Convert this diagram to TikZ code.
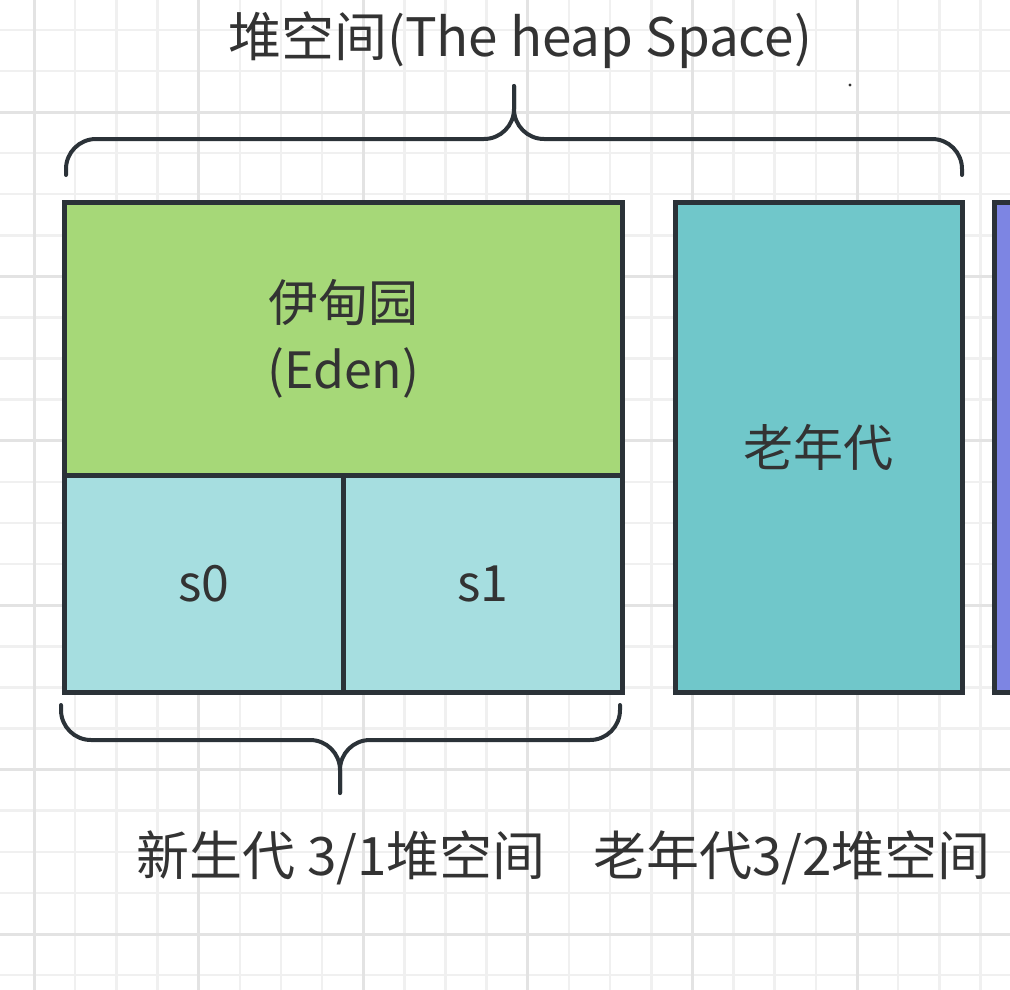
\documentclass[tikz,border=0pt]{standalone}
\usepackage{fontspec}
\newfontfamily\cjk{Noto Sans CJK SC}
\definecolor{edengreen}{HTML}{A6D878}
\definecolor{survcyan}{HTML}{A6DEE0}
\definecolor{oldcyan}{HTML}{70C7CA}
\definecolor{permblue}{HTML}{7D85E3}
\definecolor{edgegray}{HTML}{2B3238}
\definecolor{textgray}{HTML}{333333}
\definecolor{gridminor}{HTML}{F0F0F0}
\definecolor{gridmajor}{HTML}{E3E3E3}
\tikzset{
	area/.style={draw=edgegray,line width=4.5pt,inner sep=0pt,anchor=north west,
		text=textgray,align=center,font=\cjk\fontsize{50}{67}\selectfont},
	label/.style={text=textgray,inner sep=0pt,font=\cjk\fontsize{53}{60}\selectfont},
	brace/.style={draw=edgegray,line width=4pt,line cap=round,rounded corners=30pt},
}
\begin{document}
\begin{tikzpicture}[x=1pt,y=-1pt]
\useasboundingbox (0,0) rectangle (1010,990);
%Gitter
\foreach \i in {0,...,25} \draw[gridminor,line width=2.5pt] ({34+41.15*(\i-1)},0)--++(0,990);
\foreach \i in {0,...,25} \draw[gridminor,line width=2.5pt] (0,{29.8+41.1*(\i-1)})--++(1010,0);
\foreach \i in {0,...,6} \draw[gridmajor,line width=3pt] ({34+164.6*\i},0)--++(0,990);
\foreach \i in {0,...,6} \draw[gridmajor,line width=3pt] (0,{112+164.4*(\i-1)})--++(1010,0);

\node[label] (heap) at (520,40) {堆空间(The heap Space)};

\node[area,fill=edengreen,minimum width=558pt,minimum height=273pt] (eden) at (62,200) {伊甸园\\(Eden)};
\node[area,fill=survcyan,minimum width=279pt,minimum height=217pt] (s0) at (62,473) {s0};
\node[area,fill=survcyan,minimum width=279pt,minimum height=217pt] (s1) at (341,473) {s1};
\node[area,fill=oldcyan,minimum width=287pt,minimum height=490pt] (old) at (673,200) {老年代};
\node[area,fill=permblue,minimum width=60pt,minimum height=490pt] (perm) at (992,200) {};

%Klammern
\draw[brace] (66,175) |- (514,139) -- (514,86);
\draw[brace] (962,175) |- (514,139) -- (514,86);
\draw[brace] (61,705) |- (340,740) -- (340,793);
\draw[brace] (620,705) |- (340,740) -- (340,793);

\node[label] (young) at (341,858) {新生代 3/1堆空间};
\node[label] (tenured) at (792,858) {老年代3/2堆空间};

\fill[textgray] (850,85) circle (1.6pt);
\end{tikzpicture}
\end{document}
